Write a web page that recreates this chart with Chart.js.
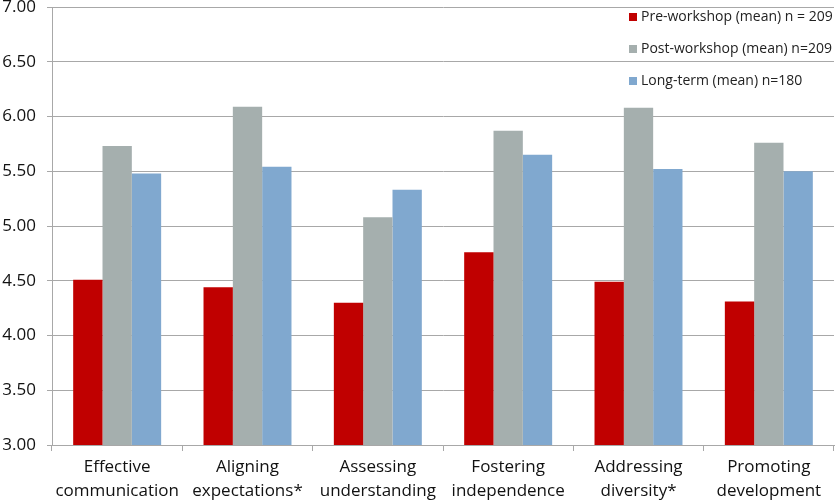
<!DOCTYPE html>
<html>
<head>
<meta charset="utf-8">
<script src="https://cdn.jsdelivr.net/npm/chart.js@4/dist/chart.umd.min.js"></script>
<style>
  html, body { margin: 0; padding: 0; background: #fff; }
  #wrap { width: 840px; height: 504px; position: relative; }
</style>
</head>
<body>
<div id="wrap"><canvas id="chart"></canvas></div>
<script>
const categories = [
    ['Effective', 'communication'],
    ['Aligning', 'expectations*'],
    ['Assessing', 'understanding'],
    ['Fostering', 'independence'],
    ['Addressing', 'diversity*'],
    ['Promoting', 'development']
];
const seriesNames = ['Pre-workshop (mean) n = 209', 'Post-workshop (mean) n=209', 'Long-term (mean) n=180'];
const preWorkshop = [4.51, 4.44, 4.30, 4.76, 4.49, 4.31];
const postWorkshop = [5.73, 6.09, 5.08, 5.87, 6.08, 5.76];
const longTerm = [5.48, 5.54, 5.33, 5.65, 5.52, 5.50];
const colors = ['#c00000', '#a5afae', '#80a8cf'];

const gridColor = '#a8a8a8';
const fontFamily = '"Open Sans", "DejaVu Sans", sans-serif';

// legend drawn inside the plot area, top right
const insideLegend = {
    id: 'insideLegend',
    afterDatasetsDraw(chart) {
        const ctx = chart.ctx;
        const area = chart.chartArea;
        ctx.save();
        ctx.font = '14px ' + fontFamily;
        ctx.textBaseline = 'middle';
        ctx.textAlign = 'left';
        chart.data.datasets.forEach((ds, i) => {
            const x = area.right - 205;
            const y = area.top + 10 + i * 32;
            ctx.fillStyle = ds.backgroundColor;
            ctx.fillRect(x, y - 4, 8, 8);
            ctx.fillStyle = '#222';
            ctx.fillText(ds.label, x + 12, y);
        });
        ctx.restore();
    }
};

const ctx = document.getElementById('chart').getContext('2d');
new Chart(ctx, {
    type: 'bar',
    data: {
        labels: categories,
        datasets: [
            { label: seriesNames[0], data: preWorkshop, backgroundColor: colors[0] },
            { label: seriesNames[1], data: postWorkshop, backgroundColor: colors[1] },
            { label: seriesNames[2], data: longTerm, backgroundColor: colors[2] }
        ]
    },
    options: {
        responsive: true,
        maintainAspectRatio: false,
        animation: false,
        layout: { padding: { top: 7, right: 6, left: 0, bottom: 0 } },
        datasets: {
            bar: { categoryPercentage: 0.675, barPercentage: 1.0 }
        },
        plugins: {
            legend: { display: false },
            tooltip: { enabled: false }
        },
        scales: {
            x: {
                afterFit(scale) {
                    scale.height = 59;
                    scale.paddingLeft = 0;
                    scale.paddingRight = 0;
                },
                grid: {
                    offset: true,
                    drawOnChartArea: false,
                    color: gridColor,
                    tickLength: 6
                },
                border: { color: gridColor },
                ticks: {
                    color: '#111',
                    font: { family: fontFamily, size: 17, lineHeight: 1.41 },
                    padding: 4,
                    maxRotation: 0,
                    autoSkip: false
                }
            },
            y: {
                min: 3,
                max: 7,
                afterFit(scale) {
                    scale.width = 52;
                    scale.paddingTop = 0;
                    scale.paddingBottom = 0;
                },
                grid: {
                    color: gridColor,
                    tickLength: 5
                },
                border: { color: gridColor },
                ticks: {
                    stepSize: 0.5,
                    color: '#111',
                    font: { family: fontFamily, size: 17 },
                    padding: 11,
                    callback: v => v.toFixed(2)
                }
            }
        }
    },
    plugins: [insideLegend]
});
</script>
</body>
</html>
